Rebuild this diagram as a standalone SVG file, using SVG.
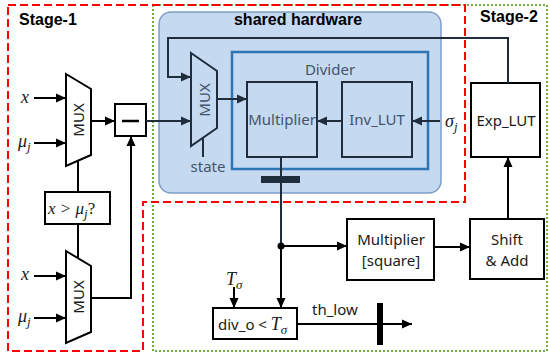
<svg xmlns="http://www.w3.org/2000/svg" width="550" height="354" viewBox="0 0 550 354">
<style>
.bold{font-family:"Liberation Sans",Arial,sans-serif;font-weight:bold;font-size:16px;fill:#000}
.lbl{font-family:"Noto Sans","Open Sans",sans-serif;font-size:15px;fill:#1a1a1a}
.glbl{font-family:"Noto Sans","Open Sans",sans-serif;font-size:15px;fill:#44546a}
.math{font-family:"Liberation Serif","DejaVu Serif",serif;font-style:italic;font-size:18px;fill:#1a1a1a}
.sub{font-size:13px}
.blk{fill:#fff;stroke:#000;stroke-width:2}
.nav{fill:none;stroke:#1f2d3d;stroke-width:2}
.wire{fill:none;stroke:#000;stroke-width:2}
.nwire{fill:none;stroke:#1f2d3d;stroke-width:2}
</style>
<defs>
<marker id="ah" markerUnits="userSpaceOnUse" markerWidth="10" markerHeight="10" viewBox="0 0 10 10" refX="10" refY="5" orient="auto">
<path d="M0,0.5 L10,5 L0,9.5 Z" fill="#000"/>
</marker>
<marker id="ahn" markerUnits="userSpaceOnUse" markerWidth="10" markerHeight="10" viewBox="0 0 10 10" refX="10" refY="5" orient="auto">
<path d="M0,0.5 L10,5 L0,9.5 Z" fill="#1f2d3d"/>
</marker>
</defs>
<rect width="550" height="354" fill="#fff"/>
<!-- stage regions -->
<g id="stage2-region">
<path d="M153,351 L153,5 L547,5 L547,351 Z" fill="none" stroke="#70ad47" stroke-width="2" stroke-dasharray="2,2"/>
</g>
<g id="stage1-region">
<path d="M8,5 L465,5 L465,202 L143,202 L143,351 L8,351 Z" fill="none" stroke="#ff0000" stroke-width="2" stroke-dasharray="8,4"/>
<text class="bold" x="19" y="25">Stage-1</text>
</g>
<text class="bold" x="480" y="22">Stage-2</text>
<g id="shared-hardware">
<rect x="159" y="12" width="282" height="181" rx="12" fill="#c5d9f1" stroke="#7f9fc6" stroke-width="1.5"/>
<text class="bold" x="298" y="25" text-anchor="middle">shared hardware</text>
</g>
<g id="divider">
<rect x="232" y="52" width="196" height="117" fill="none" stroke="#2e75b6" stroke-width="2.5"/>
<text class="glbl" x="330" y="75" text-anchor="middle">Divider</text>
</g>
<g id="multiplier">
<rect x="247" y="82" width="70" height="75" class="nav"/>
<text class="glbl" x="282" y="125" text-anchor="middle">Multiplier</text>
</g>
<g id="inv-lut">
<rect x="342" y="82" width="70" height="75" class="nav"/>
<text class="glbl" x="377" y="125" text-anchor="middle">Inv_LUT</text>
</g>
<g id="mux-shared">
<path d="M191,53 L217,71 L217,128 L191,146 Z" class="nav"/>
<text class="glbl" transform="translate(210,100) rotate(-90)" text-anchor="middle">MUX</text>
<text class="glbl" x="208" y="172" text-anchor="middle">state</text>
</g>
<g id="mux1">
<path d="M66,74 L91,89 L91,155 L66,166 Z" class="blk"/>
<text class="lbl" transform="translate(84,120) rotate(-90)" text-anchor="middle">MUX</text>
</g>
<g id="mux2">
<path d="M66,251 L91,266 L91,332 L66,343 Z" class="blk"/>
<text class="lbl" transform="translate(84,297) rotate(-90)" text-anchor="middle">MUX</text>
</g>
<g id="subtract">
<rect x="115" y="104" width="31" height="32" class="blk"/>
<line x1="122" y1="121" x2="139" y2="121" stroke="#000" stroke-width="2.5"/>
</g>
<g id="compare">
<rect x="45" y="192" width="65" height="32" class="blk"/>
<text class="math" x="48" y="214" style="font-size:17px">x &gt; μ<tspan class="sub" dy="4">j</tspan><tspan dy="-4" style="font-style:normal">?</tspan></text>
</g>
<g id="exp-lut">
<rect x="471" y="83" width="69" height="74" class="blk"/>
<text class="lbl" x="506" y="126" text-anchor="middle">Exp_LUT</text>
</g>
<g id="mult-square">
<rect x="347" y="219" width="87" height="61" class="blk"/>
<text class="lbl" x="391" y="245" text-anchor="middle">Multiplier</text>
<text class="lbl" x="391" y="266" text-anchor="middle">[square]</text>
</g>
<g id="shift-add">
<rect x="470" y="219" width="74" height="60" class="blk"/>
<text class="lbl" x="507" y="245" text-anchor="middle">Shift</text>
<text class="lbl" x="507" y="266" text-anchor="middle">&amp; Add</text>
</g>
<g id="div-compare">
<rect x="213" y="308" width="84" height="31" class="blk"/>
<text class="lbl" x="218" y="330">div_o &lt; <tspan class="math">T</tspan><tspan class="math sub" dy="4">σ</tspan></text>
</g>
<g id="connectors">
<line x1="34" y1="98" x2="66" y2="98" class="wire" marker-end="url(#ah)"/>
<line x1="34" y1="143" x2="66" y2="143" class="wire" marker-end="url(#ah)"/>
<line x1="34" y1="276" x2="66" y2="276" class="wire" marker-end="url(#ah)"/>
<line x1="34" y1="318" x2="66" y2="318" class="wire" marker-end="url(#ah)"/>
<line x1="91" y1="121" x2="115" y2="121" class="wire" marker-end="url(#ah)"/>
<line x1="146" y1="121" x2="191" y2="121" class="nwire" marker-end="url(#ahn)"/>
<polyline points="91,298 131,298 131,136" class="wire" marker-end="url(#ah)"/>
<line x1="78" y1="161" x2="78" y2="192" class="wire"/>
<line x1="78" y1="224" x2="78" y2="258" class="wire"/>
<polyline points="508,83 508,38 168,38 168,77 191,77" class="nwire" marker-end="url(#ahn)"/>
<line x1="217" y1="99" x2="247" y2="99" class="nwire" marker-end="url(#ahn)"/>
<line x1="203" y1="138" x2="203" y2="157" class="nwire"/>
<line x1="342" y1="121" x2="317" y2="121" class="nwire" marker-end="url(#ahn)"/>
<line x1="440" y1="121" x2="412" y2="121" class="nwire" marker-end="url(#ahn)"/>
<line x1="281" y1="157" x2="281" y2="246" class="nwire"/>
<rect x="261" y="176" width="39" height="7" fill="#1f2d3d"/>
<line x1="281" y1="246" x2="281" y2="308" class="wire" marker-end="url(#ah)"/>
<circle cx="281" cy="246" r="3.5" fill="#000"/>
<line x1="281" y1="246" x2="347" y2="246" class="wire" marker-end="url(#ah)"/>
<line x1="434" y1="247" x2="470" y2="247" class="wire" marker-end="url(#ah)"/>
<line x1="508" y1="219" x2="508" y2="157" class="wire" marker-end="url(#ah)"/>
<line x1="234" y1="287" x2="234" y2="308" class="wire" marker-end="url(#ah)"/>
<line x1="297" y1="324" x2="412" y2="324" class="wire" marker-end="url(#ah)"/>
<rect x="377" y="303" width="6" height="42" fill="#000"/>
</g>
<g id="labels">
<text class="math" x="21" y="103">x</text>
<text class="math" x="18" y="147">μ<tspan class="sub" dy="4">j</tspan></text>
<text class="math" x="21" y="280">x</text>
<text class="math" x="18" y="322">μ<tspan class="sub" dy="4">j</tspan></text>
<text class="math" x="445" y="127">σ<tspan class="sub" dy="4">j</tspan></text>
<text class="math" x="226" y="285">T<tspan class="sub" dy="4">σ</tspan></text>
<text class="lbl" x="312" y="315">th_low</text>
</g>
</svg>
